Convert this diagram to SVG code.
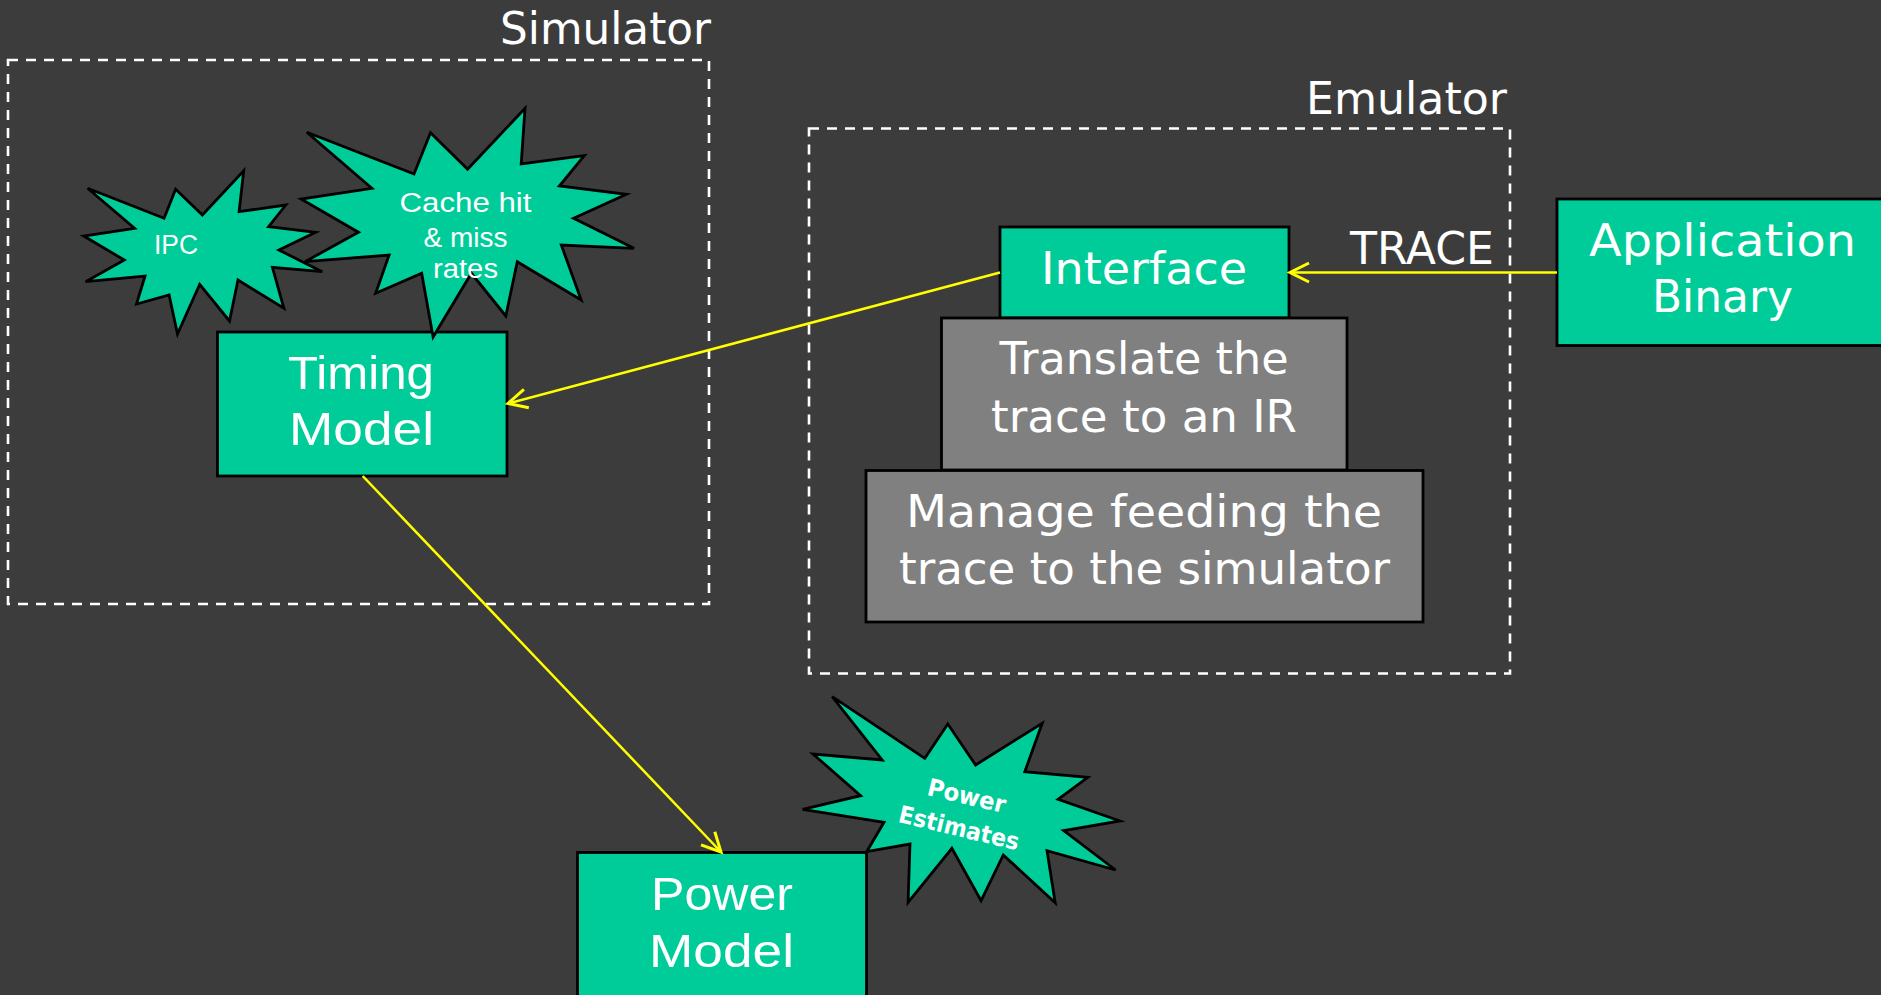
<svg xmlns="http://www.w3.org/2000/svg" width="1881" height="995" viewBox="0 0 1881 995">
<style>
.bg{fill:#3c3c3c}
.grp{fill:none;stroke:#ffffff;stroke-width:2.6;stroke-dasharray:10 8}
.g{fill:#00cc99;stroke:#000000;stroke-width:2.8}
.gray{fill:#808080;stroke:#000000;stroke-width:2.8}
.star{fill:#00cc99;stroke:#000000;stroke-width:2.8;stroke-linejoin:miter}
.t{fill:#ffffff;font-family:"DejaVu Sans","Open Sans",sans-serif;font-size:45px}
.a{fill:#ffffff;font-family:"Liberation Sans",Arial,sans-serif;font-size:47px}
.s{fill:#ffffff;font-family:"Liberation Sans",Arial,sans-serif;font-size:27px}
.pe{fill:#ffffff;font-family:"DejaVu Sans","Open Sans",sans-serif;font-size:24px;font-weight:bold}
.c{text-anchor:middle}
.conn{fill:none;stroke:#ffff00;stroke-width:2.5}
</style>
<defs>
<marker id="arr" markerUnits="userSpaceOnUse" markerWidth="30" markerHeight="30" viewBox="-25 -15 30 30" refX="0" refY="0" orient="auto">
<path d="M-19,-9.5 L0,0 L-19,9.5" fill="none" stroke="#ffff00" stroke-width="3"/>
</marker>
</defs>
<rect class="bg" x="0" y="0" width="1881" height="995"/>

<g id="simulator">
<rect class="grp" x="8" y="60" width="701" height="544"/>
<text class="t" x="711" y="44" text-anchor="end" textLength="211" lengthAdjust="spacingAndGlyphs" font-size="44">Simulator</text>
</g>

<g id="emulator">
<rect class="grp" x="809" y="128.5" width="701" height="545"/>
<text class="t" x="1507" y="114" text-anchor="end" textLength="201" lengthAdjust="spacingAndGlyphs" font-size="44">Emulator</text>
</g>

<g id="ipc">
<polygon class="star" points="87.6,188.3 164.1,218.3 175.6,189.3 202.4,215 243.7,170.7 239.1,211.7 285.8,205 268.6,226.7 315.6,232.3 278.9,250 322.2,271.7 272.4,267.3 283.9,308.3 238,280 229.5,321 199.7,284.3 177.5,334 169.1,295 136.5,304 145,276 85.6,281.7 124.3,260 83.7,236 134.6,228.3"/>
<text class="s" x="176" y="254" text-anchor="middle" textLength="44" lengthAdjust="spacingAndGlyphs">IPC</text>
</g>

<g id="timing-model">
<rect class="g" x="217.5" y="332" width="289.5" height="144"/>
<text class="a c" x="361" y="389" textLength="146" lengthAdjust="spacingAndGlyphs">Timing</text>
<text class="a c" x="361.5" y="445" textLength="145" lengthAdjust="spacingAndGlyphs">Model</text>
</g>

<g id="cache-rates">
<polygon class="star" points="306.8,132.3 414,174 430.5,132.7 467.6,169.3 525,108.3 521.2,164 584.3,155.7 559.4,186 626.4,194.3 573.6,218.3 634,248.3 561.3,245 581.2,300 517.3,261.7 505.8,316 471.4,273.3 433.1,337 421.7,273.3 375.7,293.3 389.1,255 305,261.7 358.5,232.3 301.1,199 371.9,188.3"/>
<text class="s c" x="465.5" y="212" textLength="132" lengthAdjust="spacingAndGlyphs">Cache hit</text>
<text class="s c" x="465.5" y="247" textLength="84" lengthAdjust="spacingAndGlyphs">&amp; miss</text>
<text class="s c" x="465.5" y="278" textLength="65" lengthAdjust="spacingAndGlyphs">rates</text>
</g>

<g id="interface">
<rect class="g" x="1000" y="227" width="289" height="91"/>
<text class="t c" x="1144" y="284" textLength="206" lengthAdjust="spacingAndGlyphs" font-size="46">Interface</text>
</g>

<g id="translate">
<rect class="gray" x="941.5" y="318" width="405.5" height="152"/>
<text class="t c" x="1144" y="374" textLength="289" lengthAdjust="spacingAndGlyphs">Translate the</text>
<text class="t c" x="1144" y="432" textLength="306" lengthAdjust="spacingAndGlyphs">trace to an IR</text>
</g>

<g id="manage">
<rect class="gray" x="866" y="470.5" width="557" height="151.5"/>
<text class="t c" x="1144" y="527" textLength="476" lengthAdjust="spacingAndGlyphs">Manage feeding the</text>
<text class="t c" x="1144.5" y="584" textLength="491" lengthAdjust="spacingAndGlyphs">trace to the simulator</text>
</g>

<g id="application-binary">
<rect class="g" x="1557" y="199" width="345" height="146.5"/>
<text class="t c" x="1722.5" y="256" textLength="267" lengthAdjust="spacingAndGlyphs" font-size="47">Application</text>
<text class="t c" x="1722.5" y="312" textLength="141" lengthAdjust="spacingAndGlyphs" font-size="46">Binary</text>
</g>

<g id="trace-label">
<text class="t" x="1350" y="264" textLength="144" lengthAdjust="spacingAndGlyphs" font-size="44">TRACE</text>
</g>

<g id="power-model">
<rect class="g" x="577.5" y="852.5" width="289" height="160"/>
<text class="a c" x="722" y="910" textLength="142" lengthAdjust="spacingAndGlyphs">Power</text>
<text class="a c" x="721.5" y="967" textLength="145" lengthAdjust="spacingAndGlyphs">Model</text>
</g>

<g id="power-estimates">
<polygon class="star" points="832.2,696.7 924.8,758.3 947.8,724 975.6,765 1042.2,723.3 1024.8,771.7 1087.8,777.3 1058.1,799.3 1120,821 1063.7,830.7 1115.6,870 1047,850.7 1055.2,902.7 1003.3,855 981.1,900.7 951.9,848.3 908.1,902.3 910,844 866.7,851.7 884,822.3 802.6,809.3 860.7,795.7 813,754 882.2,760"/>
<g transform="rotate(13.4 961 820)">
<text class="pe c" x="961" y="803.5" textLength="80" lengthAdjust="spacingAndGlyphs">Power</text>
<text class="pe c" x="961" y="836.5" textLength="123" lengthAdjust="spacingAndGlyphs">Estimates</text>
</g>
</g>

<g id="connectors">
<line class="conn" x1="1557" y1="272.5" x2="1290" y2="272.5" marker-end="url(#arr)"/>
<line class="conn" x1="1000" y1="272.5" x2="508" y2="403.5" marker-end="url(#arr)"/>
<line class="conn" x1="362.7" y1="476" x2="721" y2="852" marker-end="url(#arr)"/>
</g>
</svg>
